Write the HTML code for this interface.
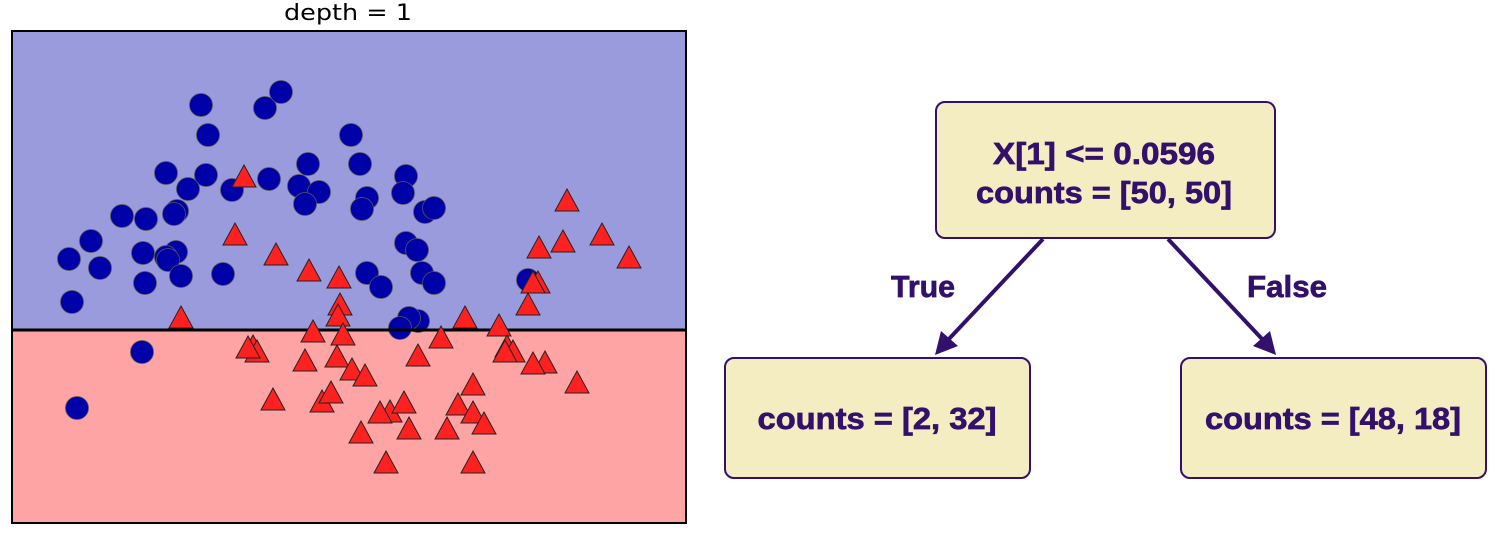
<!DOCTYPE html>
<html><head><meta charset="utf-8"><style>
html,body{margin:0;padding:0;background:#fff;}
svg{display:block;}
.t{font-family:"Liberation Sans","DejaVu Sans",sans-serif;font-weight:bold;fill:#32106c;font-size:31px;stroke:#32106c;stroke-width:0.7px;}
.ttl{font-family:"DejaVu Sans","Liberation Sans",sans-serif;font-size:22px;fill:#000;}
</style></head><body>
<svg width="1493" height="538" viewBox="0 0 1493 538" xmlns="http://www.w3.org/2000/svg">
<defs>
<g id="c"><circle r="11.5" fill="#0000a8" stroke="#555" stroke-width="0.8"/></g>
<g id="tr"><polygon points="0,-12 12,10 -12,10" fill="#ff2020" stroke="#222" stroke-width="1"/></g>
</defs>
<text class="ttl" x="348" y="20" text-anchor="middle" textLength="128" lengthAdjust="spacingAndGlyphs">depth = 1</text>
<rect x="12" y="31" width="674" height="299" fill="#9a9bdc"/>
<rect x="12" y="330" width="674" height="193" fill="#fea4a4"/>
<g>
<use href="#c" x="201" y="105"/><use href="#c" x="265" y="108"/><use href="#c" x="281" y="92"/><use href="#c" x="208" y="135"/><use href="#c" x="351" y="135"/>
<use href="#c" x="166" y="173"/><use href="#c" x="206" y="175"/><use href="#c" x="188" y="189"/><use href="#c" x="232" y="190"/><use href="#c" x="269" y="179"/>
<use href="#c" x="308" y="164"/><use href="#c" x="299" y="186"/><use href="#c" x="319" y="192"/><use href="#c" x="305" y="204"/>
<use href="#c" x="122" y="216"/><use href="#c" x="146" y="219"/><use href="#c" x="177" y="211"/><use href="#c" x="174" y="214"/>
<use href="#c" x="91" y="241"/><use href="#c" x="69" y="259"/><use href="#c" x="100" y="268"/><use href="#c" x="143" y="253"/><use href="#c" x="176" y="252"/><use href="#c" x="166" y="257"/><use href="#c" x="168" y="260"/><use href="#c" x="145" y="283"/><use href="#c" x="181" y="276"/><use href="#c" x="223" y="274"/><use href="#c" x="72" y="302"/>
<use href="#c" x="360" y="164"/><use href="#c" x="367" y="198"/><use href="#c" x="362" y="209"/><use href="#c" x="406" y="176"/><use href="#c" x="403" y="193"/><use href="#c" x="425" y="212"/><use href="#c" x="434" y="208"/>
<use href="#c" x="406" y="243"/><use href="#c" x="417" y="250"/><use href="#c" x="422" y="273"/><use href="#c" x="434" y="283"/><use href="#c" x="367" y="273"/><use href="#c" x="381" y="287"/><use href="#c" x="528" y="280"/>
<use href="#c" x="418" y="321"/><use href="#c" x="409" y="318"/><use href="#c" x="400" y="328"/><use href="#c" x="142" y="352"/><use href="#c" x="77" y="408"/>
</g>
<line x1="12" y1="330" x2="686" y2="330" stroke="#000" stroke-width="3"/>
<g>
<use href="#tr" x="244" y="177"/><use href="#tr" x="567" y="201"/><use href="#tr" x="235" y="235"/><use href="#tr" x="602" y="235"/><use href="#tr" x="563" y="242"/><use href="#tr" x="539" y="248"/>
<use href="#tr" x="276" y="255"/><use href="#tr" x="629" y="258"/><use href="#tr" x="309" y="271"/><use href="#tr" x="339" y="278"/><use href="#tr" x="538" y="283"/><use href="#tr" x="533" y="283"/>
<use href="#tr" x="340" y="305"/><use href="#tr" x="338" y="316"/><use href="#tr" x="528" y="305"/><use href="#tr" x="465" y="318"/><use href="#tr" x="499" y="326"/><use href="#tr" x="181" y="318"/>
<use href="#tr" x="313" y="332"/><use href="#tr" x="343" y="335"/><use href="#tr" x="441" y="338"/><use href="#tr" x="253" y="347"/><use href="#tr" x="257" y="352"/><use href="#tr" x="248" y="348"/>
<use href="#tr" x="507" y="347"/><use href="#tr" x="513" y="352"/><use href="#tr" x="505" y="352"/><use href="#tr" x="305" y="361"/><use href="#tr" x="337" y="357"/><use href="#tr" x="418" y="356"/>
<use href="#tr" x="545" y="363"/><use href="#tr" x="533" y="364"/><use href="#tr" x="352" y="370"/><use href="#tr" x="365" y="376"/><use href="#tr" x="473" y="385"/><use href="#tr" x="577" y="383"/>
<use href="#tr" x="273" y="400"/><use href="#tr" x="322" y="402"/><use href="#tr" x="331" y="393"/><use href="#tr" x="390" y="412"/><use href="#tr" x="380" y="413"/><use href="#tr" x="404" y="403"/>
<use href="#tr" x="458" y="405"/><use href="#tr" x="473" y="413"/><use href="#tr" x="484" y="424"/><use href="#tr" x="361" y="433"/><use href="#tr" x="409" y="429"/><use href="#tr" x="447" y="429"/>
<use href="#tr" x="386" y="463"/><use href="#tr" x="473" y="463"/>
</g>
<rect x="12" y="31" width="674" height="492" fill="none" stroke="#000" stroke-width="2"/>

<rect x="936" y="102" width="339" height="136" rx="9" fill="#f3edc1" stroke="#32106c" stroke-width="2"/>
<text class="t" x="1104" y="164" text-anchor="middle" textLength="222" lengthAdjust="spacingAndGlyphs">X[1] &lt;= 0.0596</text>
<text class="t" x="1104" y="203" text-anchor="middle" textLength="256" lengthAdjust="spacingAndGlyphs">counts = [50, 50]</text>
<rect x="725" y="358" width="305" height="120" rx="9" fill="#f3edc1" stroke="#32106c" stroke-width="2"/>
<text class="t" x="877" y="429" text-anchor="middle" textLength="239" lengthAdjust="spacingAndGlyphs">counts = [2, 32]</text>
<rect x="1181" y="358" width="305" height="120" rx="9" fill="#f3edc1" stroke="#32106c" stroke-width="2"/>
<text class="t" x="1333" y="429" text-anchor="middle" textLength="256" lengthAdjust="spacingAndGlyphs">counts = [48, 18]</text>
<line x1="1043" y1="239" x2="948" y2="340" stroke="#32106c" stroke-width="4"/>
<polygon points="935,355 941,331 958,346" fill="#32106c"/>
<line x1="1168" y1="239" x2="1263" y2="340" stroke="#32106c" stroke-width="4"/>
<polygon points="1276,355 1253,346 1270,331" fill="#32106c"/>
<text class="t" x="923" y="297" text-anchor="middle" textLength="64" lengthAdjust="spacingAndGlyphs">True</text>
<text class="t" x="1287" y="297" text-anchor="middle" textLength="80" lengthAdjust="spacingAndGlyphs">False</text>
</svg>
</body></html>
